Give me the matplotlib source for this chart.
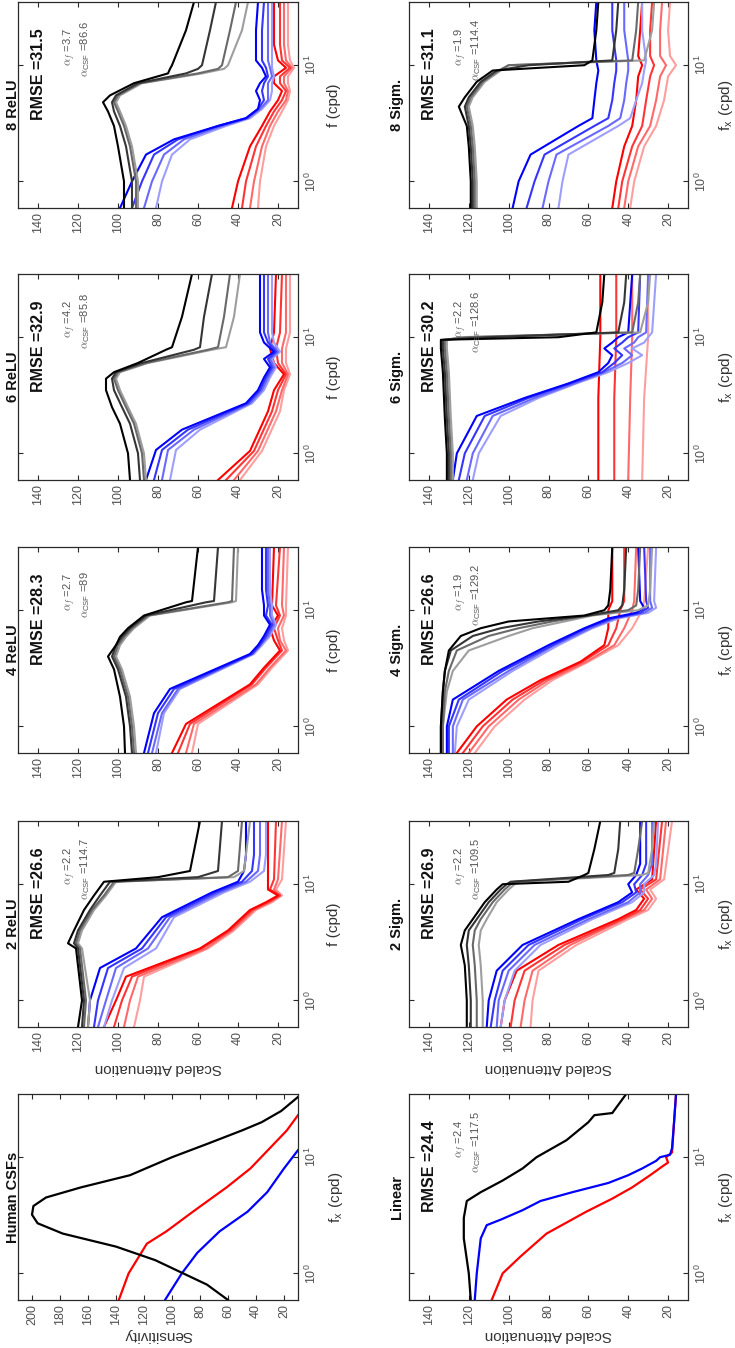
import matplotlib.pyplot as plt
import numpy as np
from matplotlib.ticker import FixedLocator, NullLocator

plt.rcParams['font.family'] = ['Liberation Sans', 'DejaVu Sans']
plt.rcParams['mathtext.fontset'] = 'cm'

# ---------------- data (frequency in cpd) ----------------
# Human CSFs
human_black_f = [0.59, 0.8, 1.0, 1.3, 1.7, 2.2, 2.7, 3.2, 3.8, 4.5, 5.5, 7, 10, 13, 17, 20, 25, 33]
human_black = [60, 75, 92, 112, 140, 178, 196, 200, 199, 190, 165, 130, 100, 75, 50, 36, 22, 10]
human_red_f = [0.59, 1.0, 1.5, 1.8, 2.3, 3.4, 5.5, 8, 12, 17, 23]
human_red = [138, 131, 122, 118, 104, 85, 61, 44, 30, 18, 10]
human_blue_f = [0.59, 1.0, 1.5, 2.3, 3.4, 5, 8, 11.5]
human_blue = [105, 93, 82, 66, 46, 32, 20, 10]

# Linear
lin_black_f = [0.59, 1, 2, 3, 4.2, 5, 6.3, 8, 10, 14, 20, 23, 24, 35]
lin_black = [119, 120, 122.5, 122.5, 121, 114, 103, 93, 86, 71, 60, 57, 48, 41]
lin_blue_f = [0.59, 1, 2, 2.6, 2.9, 3.5, 4.2, 5, 6, 7, 8, 9.3, 10, 10.5, 12, 20, 35]
lin_blue = [117, 116, 114, 111, 104, 93, 84, 68, 50, 40, 33, 26, 24, 19, 18, 17, 16]
lin_red_f = [0.59, 1, 1.4, 2.2, 3.4, 4.4, 5.5, 7, 8.3, 9, 10, 11, 20, 35]
lin_red = [108.5, 103, 94, 81, 61, 48, 38, 29, 23, 20, 21, 18, 17, 16]

# 2 ReLU
relu2_gray_f = [0.59, 1, 2.8, 3.1, 4, 6, 8, 10.5, 11.5, 13, 35]
relu2_gray = [[120, 118, 121, 125, 122, 117, 112, 107, 80, 64, 59],
              [118, 117, 120, 122, 120, 114, 109, 104, 60, 50, 48],
              [117, 116, 119, 121, 119, 113, 107, 102, 45, 40, 38],
              [115, 114, 118, 120, 118, 112, 106, 101, 42, 37, 34]]
relu2_blue_f = [0.59, 1, 1.9, 2.8, 5.2, 8.5, 10.5, 13, 18, 35]
relu2_blue = [[115, 114, 109, 91, 78, 53, 40, 37, 36, 36],
              [112, 110, 105, 88, 76, 51, 38, 33, 32, 32],
              [110, 106, 101, 85, 74, 49, 36, 30, 29, 29],
              [107, 103, 97, 81, 72, 47, 34, 27, 26, 26]]
relu2_red_f = [0.59, 1, 1.6, 2.8, 4, 6, 7, 8, 9, 11, 35]
relu2_red = [[107, 101, 96, 59, 45, 34, 26, 20, 25, 25, 25],
             [102, 98, 93, 58, 44, 33, 25, 19, 24, 22, 21],
             [97, 94, 90, 56, 43, 32, 24, 19, 22, 20, 18],
             [92, 89, 87, 55, 42, 31, 23, 18, 21, 18, 16]]

# 4 ReLU
relu4_gray_f = [0.59, 1, 1.8, 3.1, 4, 5, 5.9, 7, 9, 11.7, 12, 35]
relu4_gray = [[96.5, 97, 99, 102, 105, 101, 99, 95, 87, 66, 63, 60],
              [93, 94, 96, 100, 103, 101, 98, 94, 86, 56, 52, 50],
              [92, 93, 95, 99, 102, 100, 97, 93, 85, 45, 43, 42],
              [91, 92, 94, 98, 101, 99, 96, 92, 84, 43, 41, 40]]
relu4_blue_f = [0.59, 1.3, 2.1, 4.2, 5, 6, 7.5, 9, 11, 15, 35]
relu4_blue = [[87, 82, 74, 34, 30, 27, 24, 27, 27, 28, 28],
              [85, 80, 72, 33, 29, 26, 23, 26, 25, 26, 26],
              [83, 78, 70, 33, 29, 25, 22, 24, 24, 25, 25],
              [81, 77, 69, 32, 28, 24, 21, 23, 23, 24, 24]]
relu4_red_f = [0.59, 1.05, 2.3, 3.2, 4.5, 5.5, 7, 9, 11, 35]
relu4_red = [[73, 66, 34, 27, 19, 22, 24, 20, 23, 22],
             [70, 64, 33, 26, 18, 20, 22, 19, 21, 19],
             [66, 62, 31, 24, 16, 19, 20, 17, 18, 17],
             [63, 60, 30, 23, 15, 17, 18, 16, 16, 15]]

# 6 ReLU
relu6_gray_f = [0.59, 1, 1.8, 2.5, 3.5, 4.4, 5, 6, 7.8, 8.2, 15, 35]
relu6_gray = [[94, 95, 99, 103, 106, 106, 102, 90, 76, 73, 68, 63],
              [89, 90, 94, 98, 102, 103, 101, 88, 62, 59, 57, 53],
              [87, 88, 92, 96, 100, 102, 100, 86, 55, 50, 47, 44],
              [86, 87, 91, 95, 99, 101, 99, 85, 53, 46, 42, 39]]
relu6_blue_f = [0.59, 1.07, 1.6, 2.7, 3.5, 4.5, 5.5, 6.5, 7.5, 9, 11, 35]
relu6_blue = [[86, 81, 68, 36, 30, 27, 24, 27, 22, 27, 29, 29],
              [82, 78, 65, 35, 29, 26, 23, 25, 21, 25, 27, 27],
              [78, 75, 62, 34, 28, 25, 22, 24, 20, 24, 25, 25],
              [74, 71, 59, 33, 27, 24, 21, 23, 19, 22, 23, 23]]
relu6_red_f = [0.59, 1.05, 2.3, 3.5, 4.8, 6, 8, 11, 35]
relu6_red = [[50, 34, 25, 22, 17, 22, 24, 22, 21],
             [46, 32, 23, 20, 16, 20, 21, 19, 18],
             [42, 30, 21, 18, 15, 18, 18, 16, 16],
             [39, 28, 19, 17, 14, 16, 16, 14, 14]]

# 8 ReLU
relu8_gray_f = [0.59, 1, 2, 3, 4, 4.8, 5.5, 7, 8.5, 9.3, 10, 20, 35]
relu8_gray = [[97, 97, 100, 102, 105, 107.5, 104, 92, 75, 74, 73, 66, 62],
              [93, 93, 96, 99, 102, 103, 101, 90, 66, 60, 58, 54, 51],
              [91, 91, 94, 97, 100, 102, 100, 89, 60, 50, 48, 44, 41],
              [90, 90, 93, 96, 99, 101, 99, 88, 58, 47, 45, 38, 35]]
relu8_blue_f = [0.59, 1, 1.7, 2.3, 3.0, 3.5, 4.2, 5, 6, 7, 8, 9.5, 11, 20, 35]
relu8_blue = [[99, 93, 86, 72, 50, 36, 30, 29, 31, 29, 26, 28, 31, 31, 30],
              [93, 88, 82, 70, 50, 36, 30, 27, 28, 27, 25, 26, 28, 28, 27],
              [87, 83, 77, 67, 48, 35, 29, 25, 25, 25, 23, 24, 25, 25, 25],
              [81, 78, 73, 64, 46, 34, 28, 24, 23, 23, 22, 23, 23, 23, 23]]
relu8_red_f = [0.59, 1, 2, 3, 4, 5, 6, 7, 8, 9.5, 11, 15, 20, 35]
relu8_red = [[43, 40, 34, 28, 24, 20, 18, 22, 22, 16, 20, 22, 22, 22],
             [38, 36, 31, 26, 22, 18, 16, 19, 19, 14, 18, 19, 19, 19],
             [34, 32, 28, 24, 20, 16, 15, 17, 17, 13, 16, 17, 17, 17],
             [30, 29, 26, 22, 18, 15, 14, 15, 15, 12, 14, 15, 15, 15]]

# 2 Sigm.
sig2_gray_f = [0.59, 1, 2, 3, 4, 5, 7, 9, 10, 10.5, 12, 12.5, 20, 35]
sig2_gray = [[121, 121, 122, 124, 122, 118, 112, 106, 103, 70, 62, 60, 57, 54],
             [119, 119, 120, 121, 120, 116, 110, 104, 101, 99, 50, 47, 45, 44],
             [116, 116, 117, 118, 117, 114, 108, 102, 99, 97, 40, 37, 35, 33],
             [113, 113, 114, 115, 114, 111, 106, 100, 97, 95, 33, 30, 28, 27]]
sig2_blue_f = [0.59, 1, 1.8, 3, 5, 7, 8.5, 10, 12, 15, 35]
sig2_blue = [[111, 110, 106, 93, 65, 45, 38, 40, 36, 34, 34],
             [109, 107, 103, 90, 63, 43, 36, 37, 33, 31, 31],
             [106, 105, 100, 87, 60, 40, 34, 34, 30, 28, 28],
             [104, 102, 97, 84, 58, 38, 32, 32, 27, 26, 25]]
sig2_red_f = [0.59, 1, 1.8, 3, 5, 6, 7.5, 9, 11, 35]
sig2_red = [[104, 102, 96, 75, 45, 36, 32, 36, 28, 26],
            [99, 97, 92, 72, 43, 34, 30, 34, 26, 23],
            [94, 92, 88, 69, 42, 32, 28, 31, 24, 21],
            [89, 88, 85, 66, 40, 30, 26, 29, 22, 18]]

# 4 Sigm.
sig4_gray_f = [0.59, 1, 2, 3, 4.5, 6, 7, 8, 9, 10, 11, 15, 35]
sig4_gray = [[134, 134, 133, 132, 130, 124, 114, 100, 62, 52, 50, 49, 48],
             [134, 134, 133, 132, 129, 118, 104, 85, 60, 45, 43, 42, 41],
             [133, 133, 132, 130, 126, 110, 95, 78, 60, 40, 36, 35, 34],
             [133, 133, 131, 128, 120, 100, 88, 72, 58, 35, 30, 29, 28]]
sig4_blue_f = [0.59, 1, 1.7, 3, 5, 7, 8.5, 9.5, 10.5, 12, 35]
sig4_blue = [[131, 131, 128, 105, 80, 62, 50, 36, 32, 34, 35],
             [130, 130, 125, 103, 78, 61, 48, 34, 30, 31, 32],
             [128, 128, 123, 100, 77, 59, 47, 32, 28, 29, 29],
             [127, 126, 120, 98, 75, 58, 45, 30, 26, 27, 26]]
sig4_red_f = [0.59, 1, 1.7, 2.5, 3.6, 5, 7, 10, 12, 35]
sig4_red = [[126, 116, 101, 84, 64, 52, 50, 50, 48, 48],
            [123, 113, 98, 82, 63, 50, 46, 44, 42, 42],
            [120, 110, 95, 80, 61, 47, 42, 38, 37, 36],
            [117, 107, 92, 78, 60, 45, 38, 33, 32, 30]]

# 6 Sigm.
sig6_gray_f = [0.59, 1, 2, 5, 8, 9.5, 10, 11, 20, 35]
sig6_gray = [[131, 131, 132, 133, 134, 134, 75, 56, 53, 52],
             [130, 130, 131, 132, 133, 133, 110, 45, 42, 41],
             [129, 129, 130, 131, 132, 132, 120, 38, 35, 34],
             [128, 128, 129, 130, 131, 131, 125, 34, 30, 29]]
sig6_blue_f = [0.59, 1, 2.1, 3, 4, 5, 6, 7, 8, 9, 10, 11, 35]
sig6_blue = [[128, 126, 116, 92, 70, 55, 50, 48, 52, 48, 45, 40, 38],
             [125, 122, 112, 90, 69, 53, 47, 43, 47, 43, 40, 35, 34],
             [121, 118, 108, 87, 67, 52, 43, 38, 42, 37, 35, 31, 30],
             [118, 115, 104, 85, 66, 50, 40, 33, 38, 32, 30, 28, 26]]
sig6_red_f = [0.59, 3, 10, 35]
sig6_red = [[55, 55, 54, 54],
            [47, 47, 46, 46],
            [40, 39, 38, 38],
            [33, 32, 30, 30]]

# 8 Sigm.
sig8_gray_f = [0.59, 1, 2, 3, 4.4, 5.3, 7.2, 9, 10, 11, 20, 35]
sig8_gray = [[119, 119, 120, 121, 125, 122, 116, 108, 62, 58, 56, 55],
             [118, 118, 119, 120, 122, 120, 114, 106, 90, 48, 46, 45],
             [117, 117, 118, 119, 121, 119, 113, 105, 100, 38, 36, 35],
             [116, 116, 117, 118, 120, 118, 112, 104, 100, 32, 28, 27]]
sig8_blue_f = [0.59, 1, 1.7, 3, 3.5, 5, 7, 9, 11, 20, 35]
sig8_blue = [[98, 95, 89, 65, 58, 57, 56, 55, 56, 57, 56],
             [91, 87, 82, 57, 50, 48, 47, 46, 46, 48, 48],
             [83, 80, 76, 50, 44, 42, 41, 40, 40, 42, 42],
             [75, 73, 70, 45, 39, 36, 33, 32, 31, 33, 33]]
sig8_red_f = [0.59, 1, 2, 3, 5, 8, 10, 12, 20, 35]
sig8_red = [[48, 46, 42, 38, 36, 35, 33, 35, 34, 33],
            [45, 43, 38, 33, 31, 29, 27, 29, 29, 28],
            [42, 40, 35, 29, 26, 24, 21, 24, 24, 23],
            [39, 37, 32, 26, 22, 20, 16, 19, 20, 19]]

relu_titles = ['8 ReLU', '6 ReLU', '4 ReLU', '2 ReLU']
sigm_titles = ['8 Sigm.', '6 Sigm.', '4 Sigm.', '2 Sigm.']
relu_rmse = [31.5, 32.9, 28.3, 26.6]
relu_af = [3.7, 4.2, 2.7, 2.2]
relu_acsf = [86.6, 85.8, 89, 114.7]
sigm_rmse = [31.1, 30.2, 26.6, 26.9]
sigm_af = [1.9, 2.2, 1.9, 2.2]
sigm_acsf = [114.4, 128.6, 129.2, 109.5]
lin_rmse, lin_af, lin_acsf = 24.4, 2.4, 117.5

relu_data = [
    (relu8_gray_f, relu8_gray, relu8_blue_f, relu8_blue, relu8_red_f, relu8_red),
    (relu6_gray_f, relu6_gray, relu6_blue_f, relu6_blue, relu6_red_f, relu6_red),
    (relu4_gray_f, relu4_gray, relu4_blue_f, relu4_blue, relu4_red_f, relu4_red),
    (relu2_gray_f, relu2_gray, relu2_blue_f, relu2_blue, relu2_red_f, relu2_red),
]
sigm_data = [
    (sig8_gray_f, sig8_gray, sig8_blue_f, sig8_blue, sig8_red_f, sig8_red),
    (sig6_gray_f, sig6_gray, sig6_blue_f, sig6_blue, sig6_red_f, sig6_red),
    (sig4_gray_f, sig4_gray, sig4_blue_f, sig4_blue, sig4_red_f, sig4_red),
    (sig2_gray_f, sig2_gray, sig2_blue_f, sig2_blue, sig2_red_f, sig2_red),
]

# ---------------- layout (figure is drawn rotated: frequency runs upwards) ----------------
W, H = 735, 1348
col_left = [18, 409]
col_width = [280, 279]
row_bottom = [208, 480, 753, 1027, 1300]
panel_h = 206
title_u = [-0.017, -0.043]

LABEL_C = '#505050'
SPINE_C = '#2a2a2a'


def shades(base, n):
    base = np.array(base, dtype=float)
    return [tuple(base + (1 - base) * 0.62 * t) for t in np.linspace(0, 1, n)]


def family(ax, f, curves, base):
    cols = shades(base, len(curves))
    for vals, c in reversed(list(zip(curves, cols))):
        ax.plot(vals, f, color=c, lw=1.5, solid_joinstyle='round')


def make_axes(fig, col, row, xmax=150, xstep=20):
    ax = fig.add_axes([col_left[col] / W, 1 - row_bottom[row] / H,
                       col_width[col] / W, panel_h / H])
    ax.set_yscale('log')
    ax.set_ylim(0.59, 35)
    ax.set_xlim(xmax, 10)
    ax.xaxis.set_major_locator(FixedLocator(list(range(20, xmax - 5, xstep))))
    ax.yaxis.set_major_locator(FixedLocator([1, 10]))
    ax.yaxis.set_minor_locator(NullLocator())
    ax.yaxis.tick_right()
    ax.yaxis.set_label_position('right')
    ax.tick_params(axis='x', which='both', direction='in', top=True, bottom=True,
                   labelrotation=90, labelsize=9, length=3.5, pad=3,
                   labelcolor=LABEL_C, color=SPINE_C)
    ax.tick_params(axis='y', which='both', direction='in', left=True, right=True,
                   labelrotation=90, labelsize=9, length=3.5, pad=4,
                   labelcolor=LABEL_C, color=SPINE_C)
    for lab in ax.get_yticklabels():
        lab.set_va('center')
    for s in ax.spines.values():
        s.set_color(SPINE_C)
        s.set_linewidth(0.9)
    return ax


def annotate(ax, col, title, rmse=None, af=None, acsf=None):
    ax.text(title_u[col], 0.5, title, transform=ax.transAxes, rotation=90,
            ha='center', va='center', fontsize=10.5, fontweight='bold', color='#111111')
    if rmse is not None:
        ax.text(0.072, 0.65, 'RMSE =%g' % rmse, transform=ax.transAxes, rotation=90,
                ha='center', va='center', fontsize=11.5, fontweight='bold', color='#111111')
        ax.text(0.185, 0.78, r'$\alpha_f$ =%g' % af, transform=ax.transAxes, rotation=90,
                ha='center', va='center', fontsize=8, color='#555555')
        ax.text(0.24, 0.77, r'$\alpha_{\mathregular{CSF}}$ =%g' % acsf, transform=ax.transAxes,
                rotation=90, ha='center', va='center', fontsize=8, color='#555555')


fig = plt.figure(figsize=(W / 100, H / 100), dpi=100)

# model panels
for col, (titles, data, rm, af, ac) in enumerate([
        (relu_titles, relu_data, relu_rmse, relu_af, relu_acsf),
        (sigm_titles, sigm_data, sigm_rmse, sigm_af, sigm_acsf)]):
    for row in range(4):
        ax = make_axes(fig, col, row)
        gf, g, bf, b, rf, r = data[row]
        family(ax, rf, r, (1, 0, 0))
        family(ax, bf, b, (0, 0, 1))
        family(ax, gf, g, (0, 0, 0))
        annotate(ax, col, titles[row], rm[row], af[row], ac[row])
        if col == 0:
            ax.set_ylabel('f (cpd)', fontsize=11, color='#333333', labelpad=6)
        else:
            ax.set_ylabel(r'f$_\mathregular{x}$ (cpd)', fontsize=11, color='#333333', labelpad=6)
        if row == 3:
            ax.set_xlabel('Scaled Attenuation', fontsize=11, color='#333333',
                          rotation=180, labelpad=6)

# Human CSFs
ax = make_axes(fig, 0, 4, xmax=210)
ax.plot(human_blue, human_blue_f, color='blue', lw=1.6)
ax.plot(human_red, human_red_f, color='red', lw=1.6)
ax.plot(human_black, human_black_f, color='black', lw=1.6)
annotate(ax, 0, 'Human CSFs')
ax.set_ylabel(r'f$_\mathregular{x}$ (cpd)', fontsize=11, color='#333333', labelpad=6)
ax.set_xlabel('Sensitivity', fontsize=11, color='#333333', rotation=180, labelpad=2)

# Linear
ax = make_axes(fig, 1, 4)
ax.plot(lin_red, lin_red_f, color='red', lw=1.6)
ax.plot(lin_blue, lin_blue_f, color='blue', lw=1.6)
ax.plot(lin_black, lin_black_f, color='black', lw=1.6)
annotate(ax, 1, 'Linear', lin_rmse, lin_af, lin_acsf)
ax.set_ylabel(r'f$_\mathregular{x}$ (cpd)', fontsize=11, color='#333333', labelpad=6)
ax.set_xlabel('Scaled Attenuation', fontsize=11, color='#333333', rotation=180, labelpad=2)

fig.savefig('out.png', dpi=100)
